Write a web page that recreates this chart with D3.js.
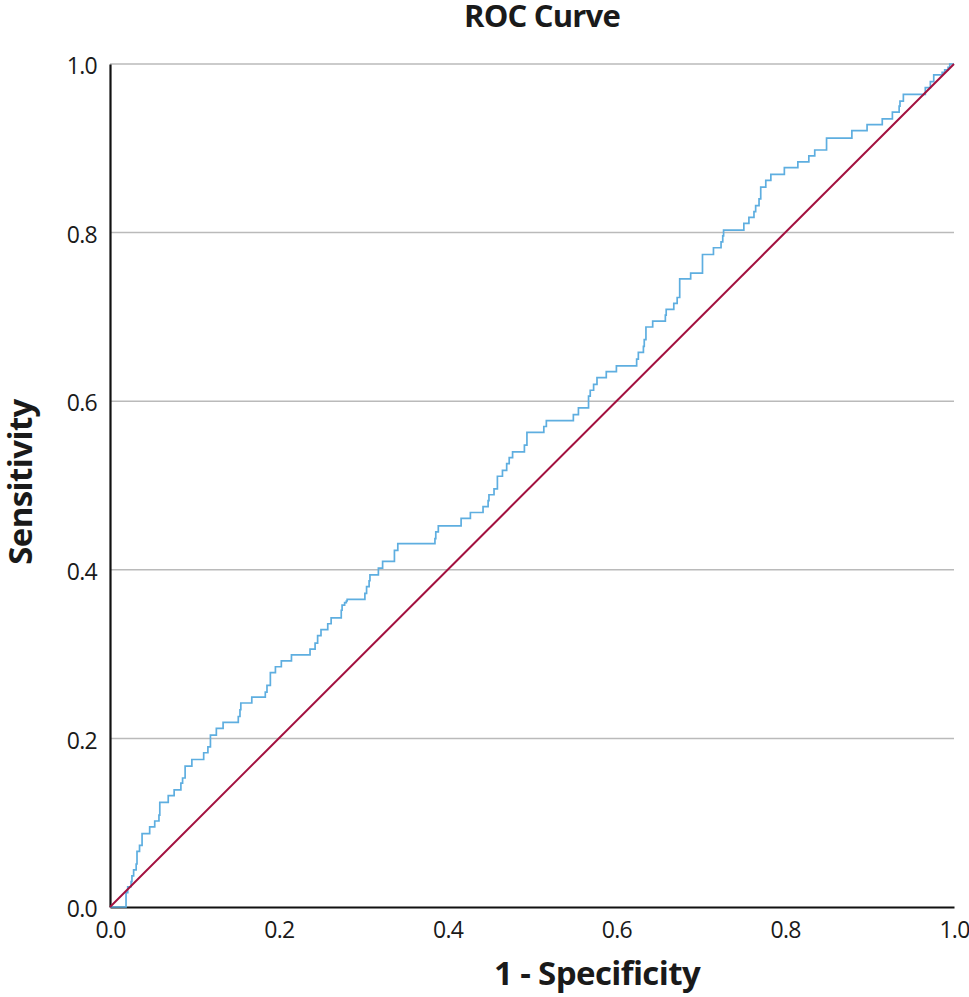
<!DOCTYPE html>
<html>
<head>
<meta charset="utf-8">
<script src="https://cdn.jsdelivr.net/npm/d3@7"></script>
<style>
  html, body { margin: 0; padding: 0; background: #fff; }
  svg { display: block; }
</style>
</head>
<body>
<svg id="chart"></svg>
<script>
// ── Data ──
// corner points of the ROC staircase: each pair starts a horizontal run
const fpr = [0, 0.019, 0.021, 0.025, 0.026, 0.028, 0.031, 0.032, 0.035, 0.038,
  0.047, 0.053, 0.058, 0.059, 0.069, 0.076, 0.084, 0.086, 0.089, 0.097,
  0.111, 0.116, 0.119, 0.126, 0.134, 0.152, 0.154, 0.155, 0.168, 0.184,
  0.186, 0.190, 0.196, 0.203, 0.215, 0.237, 0.243, 0.246, 0.250, 0.258,
  0.262, 0.274, 0.275, 0.278, 0.280, 0.281, 0.302, 0.304, 0.307, 0.308,
  0.318, 0.323, 0.337, 0.341, 0.385, 0.386, 0.389, 0.416, 0.427, 0.442,
  0.448, 0.449, 0.455, 0.459, 0.465, 0.470, 0.473, 0.477, 0.491, 0.494,
  0.514, 0.517, 0.549, 0.555, 0.567, 0.569, 0.573, 0.577, 0.588, 0.600,
  0.624, 0.626, 0.632, 0.633, 0.635, 0.643, 0.658, 0.659, 0.668, 0.672,
  0.675, 0.688, 0.702, 0.715, 0.724, 0.726, 0.727, 0.751, 0.757, 0.763,
  0.765, 0.769, 0.771, 0.777, 0.783, 0.799, 0.815, 0.828, 0.835, 0.849,
  0.879, 0.897, 0.915, 0.927, 0.935, 0.936, 0.940, 0.966, 0.972, 0.976,
  0.986, 0.989, 0.993, 0.995, 1.0];
const tpr = [0, 0.017, 0.024, 0.030, 0.037, 0.044, 0.051, 0.066, 0.073, 0.087,
  0.095, 0.102, 0.109, 0.124, 0.132, 0.139, 0.147, 0.153, 0.167, 0.175,
  0.183, 0.190, 0.204, 0.212, 0.219, 0.226, 0.234, 0.242, 0.249, 0.255,
  0.263, 0.278, 0.285, 0.292, 0.299, 0.306, 0.313, 0.322, 0.329, 0.336,
  0.343, 0.352, 0.358, 0.361, 0.363, 0.365, 0.372, 0.380, 0.387, 0.394,
  0.402, 0.410, 0.423, 0.431, 0.437, 0.445, 0.452, 0.461, 0.468, 0.475,
  0.482, 0.489, 0.496, 0.511, 0.518, 0.526, 0.533, 0.540, 0.548, 0.563,
  0.570, 0.577, 0.584, 0.592, 0.606, 0.613, 0.620, 0.628, 0.635, 0.642,
  0.650, 0.658, 0.665, 0.673, 0.688, 0.695, 0.702, 0.709, 0.716, 0.723,
  0.745, 0.752, 0.774, 0.782, 0.789, 0.796, 0.803, 0.811, 0.818, 0.825,
  0.832, 0.840, 0.854, 0.862, 0.869, 0.877, 0.884, 0.891, 0.898, 0.912,
  0.921, 0.928, 0.935, 0.943, 0.950, 0.956, 0.964, 0.972, 0.979, 0.987,
  0.990, 0.993, 0.996, 1.0, 1.0];
const refLine = [[0, 0], [1, 1]];
const xTicks = [0, 0.2, 0.4, 0.6, 0.8, 1.0];
const yTicks = [0, 0.2, 0.4, 0.6, 0.8, 1.0];
const gridTicks = [0.2, 0.4, 0.6, 0.8, 1.0];

const W = 969, H = 997;
const m = { left: 110, right: 15, top: 64, bottom: 90 };

const svg = d3.select('#chart').attr('width', W).attr('height', H);
const FONT = "'Open Sans', 'Noto Sans', sans-serif";

const x = d3.scaleLinear().domain([0, 1]).range([m.left, W - m.right]);
const y = d3.scaleLinear().domain([0, 1]).range([H - m.bottom, m.top]);

// ── Grid ──
svg.append('g').selectAll('line').data(gridTicks).enter().append('line')
  .attr('x1', x(0)).attr('x2', x(1))
  .attr('y1', d => y(d)).attr('y2', d => y(d))
  .attr('stroke', '#bababa').attr('stroke-width', 1.5);

// ── Axes ──
const xAxis = svg.append('g').attr('transform', `translate(0,${y(0)})`)
  .call(d3.axisBottom(x).tickValues(xTicks).tickFormat(d3.format('.1f')).tickSize(0).tickPadding(15));
const yAxis = svg.append('g').attr('transform', `translate(${x(0)},0)`)
  .call(d3.axisLeft(y).tickValues(yTicks).tickFormat(d3.format('.1f')).tickSize(0).tickPadding(13));
[xAxis, yAxis].forEach(a => {
  a.select('.domain').attr('stroke', '#111').attr('stroke-width', 2.2);
  a.selectAll('text').attr('font-family', FONT).attr('font-size', '23px')
    .attr('font-weight', 500).attr('letter-spacing', '-0.7px').attr('fill', '#1a1a1a');
});
yAxis.selectAll('text').attr('dy', '0.42em');

// ── ROC curve ──
const pts = fpr.map((f, i) => [f, tpr[i]]);
svg.append('path').datum(pts)
  .attr('d', d3.line().x(d => x(d[0])).y(d => y(d[1])).curve(d3.curveStepAfter))
  .attr('fill', 'none').attr('stroke', '#5eaee0').attr('stroke-width', 1.7);

// ── Reference line ──
svg.append('path').datum(refLine)
  .attr('d', d3.line().x(d => x(d[0])).y(d => y(d[1])))
  .attr('fill', 'none').attr('stroke', '#a3113f').attr('stroke-width', 2);

// ── Titles ──
svg.append('text').text('ROC Curve')
  .attr('x', 542).attr('y', 27).attr('text-anchor', 'middle')
  .attr('font-family', FONT).attr('font-weight', 700).attr('font-size', '31px')
  .attr('letter-spacing', '-0.8px').attr('fill', '#1a1a1a');

svg.append('text').text('1 - Specificity')
  .attr('x', 597).attr('y', 985).attr('text-anchor', 'middle')
  .attr('font-family', FONT).attr('font-weight', 700).attr('font-size', '33px')
  .attr('letter-spacing', '-0.6px').attr('fill', '#1a1a1a');

svg.append('text').text('Sensitivity')
  .attr('transform', 'translate(32,482) rotate(-90)').attr('text-anchor', 'middle')
  .attr('font-family', FONT).attr('font-weight', 700).attr('font-size', '33px')
  .attr('letter-spacing', '-0.6px').attr('fill', '#1a1a1a');
</script>
</body>
</html>
